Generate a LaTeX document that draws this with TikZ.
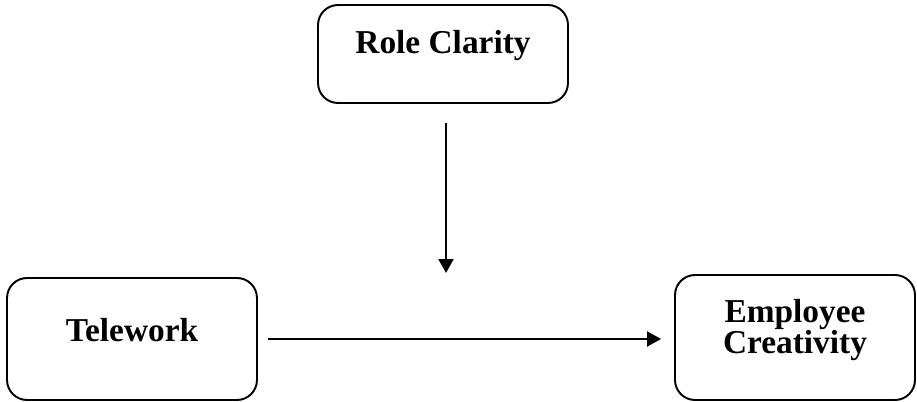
\documentclass[tikz,border=0pt]{standalone}
\usepackage{fontspec}
\setmainfont{Liberation Serif}
\usetikzlibrary{arrows.meta, positioning}
\tikzstyle{varbox} = [rectangle, rounded corners=0.4cm, text centered, align=center, draw=black, line width=1.1pt, font=\fontsize{19}{18}\selectfont\bfseries, text height=0.45cm, text depth=0.45cm]
\tikzstyle{arrow} = [line width=1.1pt, -{Triangle[length=0.28cm, width=0.3cm]}]

\begin{document}
\begin{tikzpicture}[x=0.02cm, y=-0.02cm]
\useasboundingbox (0,0) rectangle (917,402);

\node (role) [varbox, minimum width=5cm, minimum height=1.96cm] at (443,54) {Role Clarity};
\node (telework) [varbox, minimum width=5cm, minimum height=2.44cm, text height=0.5cm, text depth=0.4cm] at (132,339) {Telework};
\node (creativity) [varbox, minimum width=4.8cm, minimum height=2.5cm, text height=0.95cm, text depth=0.29cm] at (795,337.5) {Employee\\Creativity};

% moderating arrow, ends above the main path
\coordinate (modtop) at (446,123);
\coordinate (modend) at (446,273);
\draw [arrow] (modtop) -- (modend);

\draw [arrow, shorten <=0.2cm, shorten >=0.26cm] (telework.east) -- (telework.east -| creativity.west);
\end{tikzpicture}
\end{document}
